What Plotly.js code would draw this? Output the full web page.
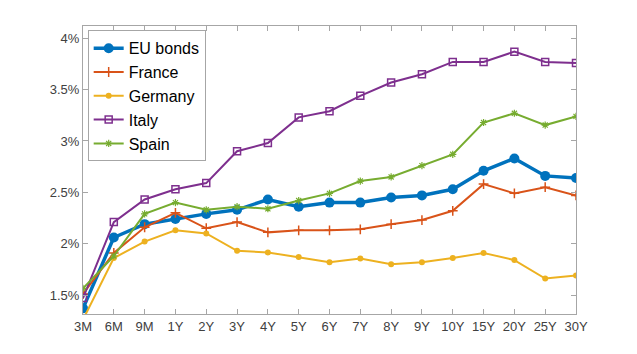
<!DOCTYPE html>
<html>
<head>
<meta charset="utf-8">
<script src="https://cdn.plot.ly/plotly-3.0.1.min.js"></script>
<style>html,body{margin:0;padding:0;background:#fff;}#chart{width:637px;height:354px;}</style>
</head>
<body>
<div id="chart"></div>
<script>
const maturities = ["3M","6M","9M","1Y","2Y","3Y","4Y","5Y","6Y","7Y","8Y","9Y","10Y","15Y","20Y","25Y","30Y"];
const euBonds = [1.37,2.06,2.19,2.24,2.29,2.33,2.43,2.36,2.40,2.40,2.45,2.47,2.53,2.71,2.83,2.66,2.64];
const france  = [1.51,1.91,2.16,2.30,2.15,2.21,2.11,2.13,2.13,2.14,2.19,2.23,2.32,2.58,2.49,2.55,2.47];
const germany = [1.26,1.86,2.02,2.13,2.10,1.93,1.915,1.87,1.82,1.855,1.80,1.82,1.86,1.91,1.84,1.66,1.69];
const italy   = [1.47,2.21,2.43,2.53,2.59,2.90,2.98,3.23,3.29,3.44,3.57,3.65,3.77,3.77,3.87,3.77,3.76];
const spain   = [1.565,1.88,2.29,2.40,2.33,2.36,2.34,2.42,2.49,2.61,2.65,2.76,2.87,3.18,3.27,3.155,3.24];
const yTicks = [1.5,2,2.5,3,3.5,4];
const yTickText = ["1.5%","2%","2.5%","3%","3.5%","4%"];

const idx = maturities.map((_, i) => i);

const traces = [
  {name:"EU bonds", x: idx, y: euBonds, type:"scatter", mode:"lines+markers",
   line:{color:"#0072BD", width:3.5}, marker:{symbol:"circle", size:10, color:"#0072BD"}},
  {name:"France", x: idx, y: france, type:"scatter", mode:"lines+markers",
   line:{color:"#D95319", width:2}, marker:{symbol:"cross-thin", size:7, color:"#D95319", line:{color:"#D95319", width:1.5}}},
  {name:"Germany", x: idx, y: germany, type:"scatter", mode:"lines+markers",
   line:{color:"#EDB120", width:2}, marker:{symbol:"circle", size:6, color:"#EDB120"}},
  {name:"Italy", x: idx, y: italy, type:"scatter", mode:"lines+markers",
   line:{color:"#7E2F8E", width:2}, marker:{symbol:"square-open", size:7, color:"#7E2F8E", line:{color:"#7E2F8E", width:1.5}}},
  {name:"Spain", x: idx, y: spain, type:"scatter", mode:"lines+markers",
   line:{color:"#77AC30", width:2}, marker:{symbol:"asterisk-open", size:6, color:"#77AC30", line:{color:"#77AC30", width:1.2}}}
];

const axisCommon = {
  showline:true, linecolor:"#a6a6a6", linewidth:1, mirror:"ticks",
  ticks:"inside", ticklen:5, tickcolor:"#a6a6a6", tickwidth:1,
  showgrid:false, zeroline:false,
  tickfont:{family:"Liberation Sans, Arial, sans-serif", size:13, color:"#404040"}
};

const layout = {
  width:637, height:354,
  margin:{l:83, r:61, t:26, b:40},
  paper_bgcolor:"#ffffff", plot_bgcolor:"#ffffff",
  showlegend:true,
  legend:{x:0.0095, y:0.985, xanchor:"left", yanchor:"top",
    bgcolor:"#ffffff", bordercolor:"#a6a6a6", borderwidth:1,
    font:{family:"Liberation Sans, Arial, sans-serif", size:16, color:"#000000"},
    tracegroupgap:0},
  xaxis: Object.assign({}, axisCommon, {
    range:[0, maturities.length - 1], tickmode:"array", tickvals: idx, ticktext: maturities
  }),
  yaxis: Object.assign({}, axisCommon, {
    range:[1.315, 4.12], tickmode:"array", tickvals: yTicks, ticktext: yTickText
  })
};

Plotly.newPlot("chart", traces, layout, {displayModeBar:false, staticPlot:true});
</script>
</body>
</html>
